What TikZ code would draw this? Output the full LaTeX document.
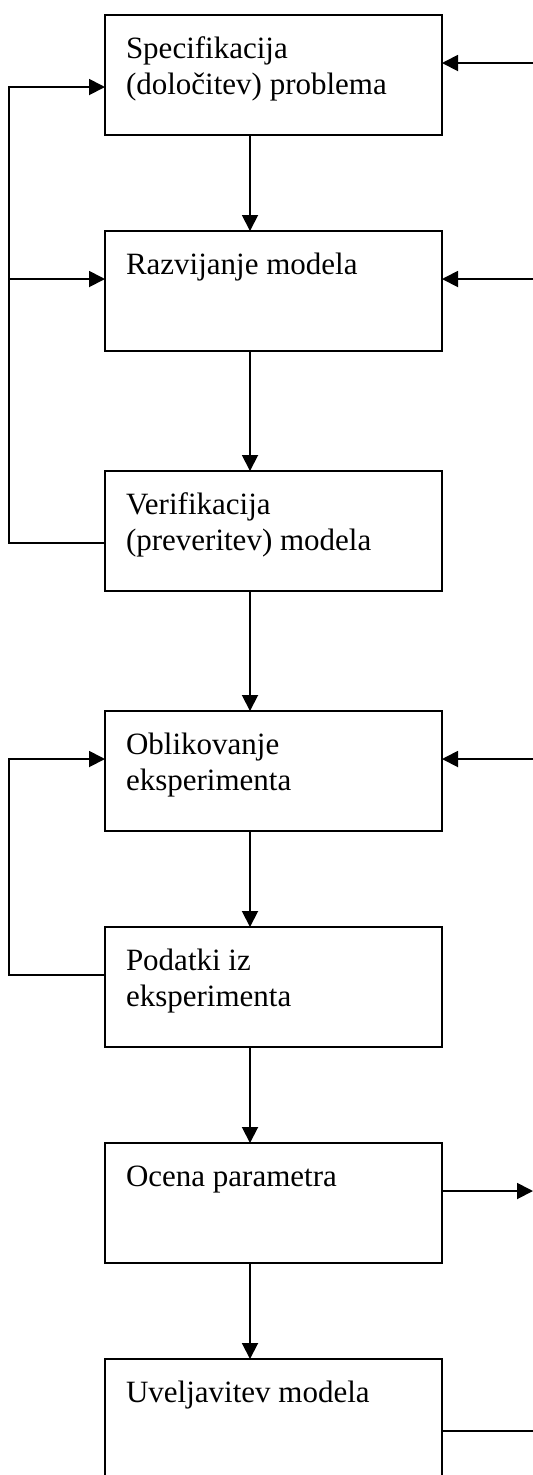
\documentclass[tikz,border=0pt]{standalone}
\usepackage{fontspec}
\setmainfont{Liberation Serif}
\usetikzlibrary{arrows.meta, positioning}
\tikzset{
  stagebox/.style={draw, line width=0.75pt, outer sep=0pt, minimum width=134.8pt,
                   minimum height=48pt, inner xsep=8.4pt, inner ysep=0pt,
                   font=\fontsize{12.4pt}{14.4pt}\selectfont},
  flowarrow/.style={-{Triangle[length=6.4pt, width=6.4pt]}, line width=0.75pt},
  flowline/.style={line width=0.75pt}
}
\newcommand{\stagetext}[1]{\parbox[c][48pt][t]{118pt}{\raggedright\rule{0pt}{17.2pt}#1}}

\begin{document}
\begin{tikzpicture}[x=0.4pt, y=-0.4pt]
\useasboundingbox (0,0) rectangle (533,1475);

% Stages
\node[stagebox, anchor=north west] (spec) at (105,15) {\stagetext{Specifikacija\\(določitev) problema}};
\node[stagebox, below=38.4pt of spec]  (razv)  {\stagetext{Razvijanje modela}};
\node[stagebox, below=48pt of razv]    (verif) {\stagetext{Verifikacija\\(preveritev) modela}};
\node[stagebox, below=48pt of verif]   (oblik) {\stagetext{Oblikovanje\\eksperimenta}};
\node[stagebox, below=38.4pt of oblik] (podat) {\stagetext{Podatki iz\\eksperimenta}};
\node[stagebox, below=38.4pt of podat] (ocena) {\stagetext{Ocena parametra}};
\node[stagebox, below=38.4pt of ocena] (uvelj) {\stagetext{Uveljavitev modela}};

% Free ends
\coordinate (ax) at (250,0);
\coordinate (r1) at (533,63);
\coordinate (r2) at (533,279);
\coordinate (r4) at (533,759);
\coordinate (r6) at (533,1191);
\coordinate (r7) at (533,1431);
\coordinate (l1) at (9,87);
\coordinate (l2) at (9,279);
\coordinate (l3) at (9,543);
\coordinate (l4) at (9,759);
\coordinate (l5) at (9,975);

% Main flow
\draw[flowarrow] (spec.south -| ax)  -- (razv.north -| ax);
\draw[flowarrow] (razv.south -| ax)  -- (verif.north -| ax);
\draw[flowarrow] (verif.south -| ax) -- (oblik.north -| ax);
\draw[flowarrow] (oblik.south -| ax) -- (podat.north -| ax);
\draw[flowarrow] (podat.south -| ax) -- (ocena.north -| ax);
\draw[flowarrow] (ocena.south -| ax) -- (uvelj.north -| ax);

% Feedback on the left
\draw[flowarrow] (l3 -| verif.west) -- (l3) |- (l1 -| spec.west);
\draw[flowarrow] (l2) -- (l2 -| razv.west);
\draw[flowarrow] (l5 -| podat.west) -- (l5) |- (l4 -| oblik.west);

% Inputs and outputs on the right
\draw[flowarrow] (r1) -- (r1 -| spec.east);
\draw[flowarrow] (r2) -- (r2 -| razv.east);
\draw[flowarrow] (r4) -- (r4 -| oblik.east);
\draw[flowarrow] (r6 -| ocena.east) -- (r6);
\draw[flowline]  (r7 -| uvelj.east) -- (r7);

\end{tikzpicture}
\end{document}
